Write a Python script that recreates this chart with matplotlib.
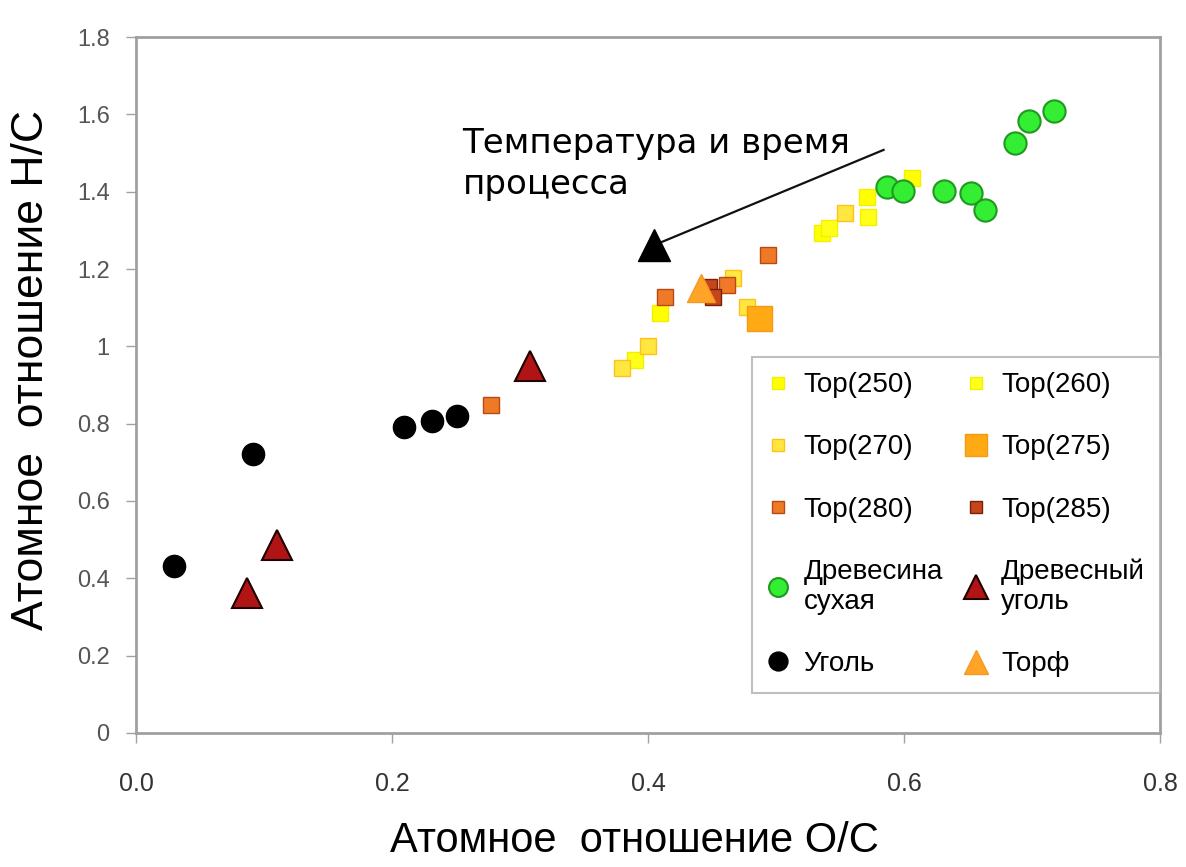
import matplotlib.pyplot as plt

plt.rcParams['font.family'] = ['Liberation Sans', 'DejaVu Sans']

# torrefaction series (O/C, H/C)
top250_x = [0.536, 0.571, 0.606, 0.409]
top250_y = [1.293, 1.386, 1.435, 1.086]
top260_x = [0.541, 0.572, 0.390]
top260_y = [1.306, 1.334, 0.965]
top270_x = [0.554, 0.466, 0.477, 0.400, 0.380]
top270_y = [1.345, 1.176, 1.102, 1.001, 0.944]
top275_x = [0.487]
top275_y = [1.073]
top280_x = [0.494, 0.413, 0.462, 0.277]
top280_y = [1.236, 1.128, 1.158, 0.848]
top285_x = [0.448, 0.451]
top285_y = [1.153, 1.128]

wood_x = [0.587, 0.599, 0.631, 0.652, 0.663, 0.687, 0.698, 0.717]
wood_y = [1.412, 1.402, 1.402, 1.396, 1.352, 1.526, 1.583, 1.608]
charcoal_x = [0.087, 0.110, 0.308]
charcoal_y = [0.362, 0.486, 0.949]
coal_x = [0.030, 0.091, 0.209, 0.231, 0.251]
coal_y = [0.432, 0.721, 0.791, 0.807, 0.820]
peat_x = [0.441]
peat_y = [1.150]

arrow_from = (0.584, 1.508)
arrow_to = (0.405, 1.262)

fig = plt.figure(figsize=(11.86, 8.67), dpi=100)
ax = fig.add_axes([0.1147, 0.1546, 0.8634, 0.8027])

sq = dict(marker='s', linestyle='none', markersize=11)
h250, = ax.plot(top250_x, top250_y, color='#ffff00', mec='#f5ee00', label='Top(250)', **sq)
h260, = ax.plot(top260_x, top260_y, color='#ffff1a', mec='#f0f000', label='Top(260)', **sq)
h270, = ax.plot(top270_x, top270_y, color='#ffe640', mec='#ffc21a', label='Top(270)', **sq)
h275, = ax.plot(top275_x, top275_y, marker='s', linestyle='none', markersize=18,
                color='#ffaa14', mec='#f59a10', label='Top(275)')
h280, = ax.plot(top280_x, top280_y, color='#ee7a28', mec='#b84a10', label='Top(280)', **sq)
h285, = ax.plot(top285_x, top285_y, color='#c4461a', mec='#7a2008', label='Top(285)', **sq)
hwood, = ax.plot(wood_x, wood_y, marker='o', linestyle='none', markersize=16,
                 color='#33ee33', mec='#1f9a1f', mew=1.5, label='Древесина\nсухая')
hchar, = ax.plot(charcoal_x, charcoal_y, marker='^', linestyle='none', markersize=21,
                 color='#b01414', mec='#200000', mew=1.5, label='Древесный\nуголь')
hcoal, = ax.plot(coal_x, coal_y, marker='o', linestyle='none', markersize=16,
                 color='#000000', mec='#000000', label='Уголь')
hpeat, = ax.plot(peat_x, peat_y, marker='^', linestyle='none', markersize=20,
                 color='#ffa426', mec='#f59a20', label='Торф')

# arrow annotation
ax.plot([arrow_from[0], arrow_to[0]], [arrow_from[1], arrow_to[1]], color='#111111', lw=1.6)
ax.plot([arrow_to[0]], [arrow_to[1]], marker='^', markersize=23, color='black')
ax.text(0.255, 1.567, 'Температура и время\nпроцесса', fontsize=24.5,
        family='DejaVu Sans', linespacing=1.3, va='top')

ax.set_xlim(0, 0.8)
ax.set_ylim(0, 1.8)
ax.set_xticks([0.0, 0.2, 0.4, 0.6, 0.8])
ax.set_xticklabels(['0.0', '0.2', '0.4', '0.6', '0.8'])
ax.set_yticks([0, 0.2, 0.4, 0.6, 0.8, 1.0, 1.2, 1.4, 1.6, 1.8])
ax.set_yticklabels(['0', '0.2', '0.4', '0.6', '0.8', '1', '1.2', '1.4', '1.6', '1.8'])

for s in ax.spines.values():
    s.set_color('#a0a0a0')
    s.set_linewidth(2)
ax.tick_params(axis='x', length=7, width=1, color='#a0a0a0', pad=21,
               labelsize=18, labelcolor='#333333')
ax.tick_params(axis='y', length=7, width=1, color='#a0a0a0', pad=12,
               labelsize=17, labelcolor='#555555')

ax.set_xlabel('Атомное  отношение О/С', fontsize=30)
ax.set_ylabel('Атомное  отношение Н/С', fontsize=32)
ax.xaxis.set_label_coords(0.487, -0.127)
ax.yaxis.set_label_coords(-0.082, 0.5216)

handles = [h250, h270, h280, hwood, hcoal, h260, h275, h285, hchar, hpeat]
leg = ax.legend(handles=handles, ncol=2, loc='upper left', bbox_to_anchor=(0.6016, 0.5402),
                borderaxespad=0, fontsize=20, frameon=True, fancybox=False,
                edgecolor='#b0b0b0', markerscale=0.85, handlelength=0.8,
                handletextpad=0.5, columnspacing=0.8, labelspacing=1.3, borderpad=0.55)
leg.get_frame().set_linewidth(1.5)

fig.savefig('out.png', dpi=100, facecolor='white')
